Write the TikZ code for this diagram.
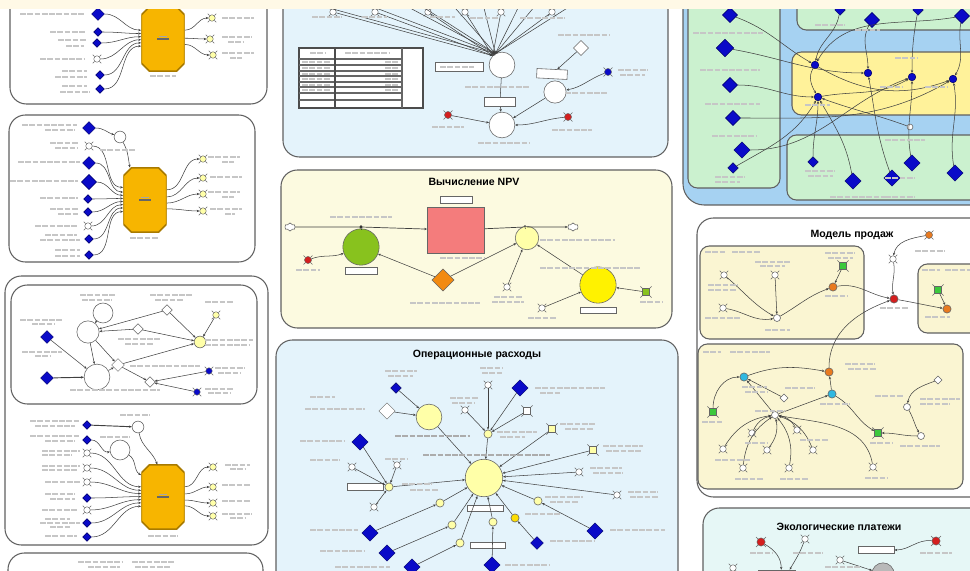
\documentclass[tikz,border=0pt]{standalone}
\usepackage{fontspec}
\setmainfont{Liberation Sans}
\usetikzlibrary{shapes.geometric,shapes.misc,shapes.symbols,arrows.meta,positioning}

\definecolor{topcream}{HTML}{FFF9E6}
\definecolor{panelblue}{HTML}{E4F3FB}
\definecolor{panelcream}{HTML}{FCFAE0}
\definecolor{subcream}{HTML}{FAF5D2}
\definecolor{ecocyan}{HTML}{E6F7F6}
\definecolor{skyblue}{HTML}{A6D2F2}
\definecolor{mint}{HTML}{CBF1CF}
\definecolor{sandyel}{HTML}{FFF29A}
\definecolor{stockpink}{HTML}{F47C7C}
\definecolor{octgold}{HTML}{F7B500}
\definecolor{octline}{HTML}{A87A00}
\definecolor{paleyel}{HTML}{FFFFA8}
\definecolor{npvgreen}{HTML}{88C21E}
\definecolor{npvorange}{HTML}{F28A10}
\definecolor{bluenode}{HTML}{0A0AC8}
\definecolor{rednode}{HTML}{D41E1E}
\definecolor{greennode}{HTML}{3CC83C}
\definecolor{orangenode}{HTML}{E87A20}
\definecolor{cyannode}{HTML}{30B8E0}

\newcommand\lbl[3]{\draw[lbar] (#1,#2) -- ++(#3,0);}

\begin{document}
\begin{tikzpicture}[x=0.03cm,y=-0.03cm,
  panel/.style={draw=gray!75!black, line width=0.9pt, rounded corners=14pt},
  subpanel/.style={panel, rounded corners=8pt},
  lk/.style={draw=black!75, line width=0.45pt, -{Stealth[length=2.4pt,width=2pt]}},
  ln/.style={draw=black!75, line width=0.45pt},
  tick/.style={draw=black!60, line width=0.45pt},
  ghost/.style={circle, draw=black!60, fill=#1, inner sep=0pt, minimum size=5.5pt, line width=0.4pt,
    append after command={
      (\tikzlastnode.45) edge[tick] ++(45:2.2pt)
      (\tikzlastnode.135) edge[tick] ++(135:2.2pt)
      (\tikzlastnode.225) edge[tick] ++(225:2.2pt)
      (\tikzlastnode.315) edge[tick] ++(315:2.2pt)}},
  ghost/.default=white,
  sqghost/.style={ghost=#1, rectangle, minimum size=6pt},
  sqghost/.default=white,
  bdia/.style={diamond, draw=blue!40!black, fill=bluenode, inner sep=0pt, minimum size=11pt},
  sdia/.style={bdia, minimum size=7.5pt},
  dot/.style={circle, draw=blue!40!black, fill=bluenode, inner sep=0pt, minimum size=6.5pt},
  circ/.style={circle, draw=black!60, fill=#1, inner sep=0pt, line width=0.5pt},
  circ/.default=white,
  wdia/.style={diamond, draw=black!60, fill=white, inner sep=0pt, minimum size=9pt},
  octo/.style={rectangle, minimum width=37pt, minimum height=55pt, inner sep=0pt,
    path picture={\filldraw[fill=octgold, draw=octline, line width=1.4pt]
      ([xshift=7pt]path picture bounding box.north west) -- ([xshift=-7pt]path picture bounding box.north east)
      -- ([yshift=-7pt]path picture bounding box.north east) -- ([yshift=7pt]path picture bounding box.south east)
      -- ([xshift=-7pt]path picture bounding box.south east) -- ([xshift=7pt]path picture bounding box.south west)
      -- ([yshift=7pt]path picture bounding box.south west) -- ([yshift=-7pt]path picture bounding box.north west)
      -- cycle;
      \draw[black!60, line width=1pt] ([xshift=-5pt]path picture bounding box.center) -- ([xshift=5pt]path picture bounding box.center);
      \draw[black!35, line width=0.8pt] ([xshift=-3pt,yshift=2pt]path picture bounding box.center) -- ([xshift=3pt,yshift=2pt]path picture bounding box.center);}},
  inbox/.style={rectangle, draw=black!60, fill=white, inner sep=0pt, line width=0.5pt},
  vlv/.style={circle, fill=black!80, inner sep=0pt, minimum size=3pt},
  sink/.style={cloud, cloud puffs=6, draw=black!70, fill=white, minimum width=9pt, minimum height=7pt, inner sep=0pt},
  lbar/.style={draw=gray!45, line width=2pt, dash pattern=on 5pt off 1.2pt},
  ttl/.style={font=\fontsize{9}{10}\selectfont\bfseries}]
\useasboundingbox (0,0) rectangle (970,571);
\clip (0,0) rectangle (970,571);
\fill[white] (0,0) rectangle (970,571);

% panels
\draw[panel,fill=white] (10,-30) rectangle (267,104);
\draw[panel,fill=white] (9,115) rectangle (255,262);
\draw[panel,fill=white] (5,276) rectangle (268,545);
\draw[panel,fill=white] (11,285) rectangle (257,404);
\draw[panel,fill=white] (8,553) rectangle (263,620);
\draw[panel,fill=panelblue] (283,-30) rectangle (668,157);
\draw[panel,fill=panelcream] (281,170) rectangle (672,328);
\draw[panel,fill=panelblue] (276,340) rectangle (678,620);
\draw[panel,fill=skyblue,rounded corners=18pt] (683,-30) rectangle (1000,205);
\draw[subpanel,fill=mint] (688,-30) rectangle (780,188);
\draw[subpanel,fill=mint] (797,-30) rectangle (1000,30);
\draw[subpanel,fill=sandyel] (792,52) rectangle (1000,115);
\draw[subpanel,fill=mint] (787,135) rectangle (1000,200);
\draw[panel,fill=white] (697,218) rectangle (1000,497);
\draw[subpanel,fill=subcream] (700,246) rectangle (864,339);
\draw[subpanel,fill=subcream] (918,264) rectangle (1000,333);
\draw[subpanel,fill=subcream] (698,344) rectangle (963,489);
\draw[panel,fill=ecocyan] (703,508) rectangle (1000,620);

% block A
\node[octo] (oa) at (163,39) {};
\node[bdia] (a1) at (98,14) {};
\node[sdia] (a2) at (98,32) {};
\node[sdia] (a3) at (97,43) {};
\node[ghost] (a4) at (97,59) {};
\node[sdia] (a5) at (100,75) {};
\node[sdia] (a6) at (100,89) {};
\node[ghost=paleyel] (ar1) at (212,18) {};
\node[ghost=paleyel] (ar2) at (210,39) {};
\node[ghost=paleyel] (ar3) at (213,55) {};
\coordinate (at1) at (135,0);
\coordinate (at2) at (200,0);
\foreach \n/\t in {1/158,2/166,3/174,4/182,5/190,6/198}
  \draw[lk] (a\n) to[out=0,in=180] (oa.\t);
\foreach \n/\t in {1/22,2/2,3/-14}
  \draw[lk] (oa.\t) to[out=0,in=180] (ar\n);
\draw[lk] (at1) to[out=-20,in=160] (oa.125);
\draw[lk] (at2) to[out=200,in=20] (oa.55);
\lbl{20}{14}{65}\lbl{50}{32}{35}\lbl{58}{40}{28}\lbl{66}{46}{18}\lbl{40}{59}{45}
\lbl{62}{71}{25}\lbl{55}{77}{32}\lbl{62}{86}{25}\lbl{60}{92}{30}
\lbl{222}{18}{32}\lbl{222}{37}{30}\lbl{228}{42}{15}\lbl{222}{53}{32}\lbl{230}{58}{12}
\lbl{150}{76}{26}

% block B
\node[octo] (ob) at (145,200) {};
\node[bdia] (b1) at (89,128) {};
\node[ghost] (b2) at (89,146) {};
\node[bdia] (b3) at (89,163) {};
\node[bdia, minimum size=13pt] (b4) at (89,182) {};
\node[sdia] (b5) at (88,199) {};
\node[sdia] (b6) at (88,212) {};
\node[ghost] (b7) at (88,226) {};
\node[sdia] (b8) at (89,239) {};
\node[sdia] (b9) at (89,255) {};
\node[circ, minimum size=10pt] (bc) at (120,137) {};
\draw[lk] (b1) to[out=0,in=160] (bc);
\draw[lk] (bc) to[out=-60,in=100] (ob.115);
\foreach \n/\t in {2/150,3/160,4/168,5/176,6/184,7/192,8/200,9/208}
  \draw[lk] (b\n) to[out=0,in=180] (ob.\t);
\foreach \n/\y/\t in {1/159/25,2/178/8,3/194/-8,4/211/-22} {
  \node[ghost=paleyel] (br\n) at (203,\y) {};
  \draw[lk] (ob.\t) to[out=0,in=180] (br\n);
}
\lbl{22}{125}{55}\lbl{45}{130}{30}\lbl{50}{143}{28}\lbl{55}{148}{22}\lbl{100}{150}{35}
\lbl{18}{162}{62}\lbl{10}{181}{68}\lbl{40}{198}{38}\lbl{50}{209}{28}\lbl{58}{214}{20}
\lbl{35}{226}{42}\lbl{45}{235}{32}\lbl{40}{240}{40}\lbl{55}{250}{25}\lbl{55}{256}{25}
\lbl{208}{157}{32}\lbl{222}{162}{12}\lbl{210}{177}{32}\lbl{208}{192}{32}\lbl{222}{197}{12}
\lbl{210}{209}{32}\lbl{225}{214}{10}\lbl{130}{238}{28}

% block C, upper part
\node[bdia] (c1) at (47,337) {};
\node[bdia] (c2) at (47,378) {};
\node[circ, minimum size=19pt] (cw1) at (88,332) {};
\node[circ, minimum size=17pt] (cw2) at (103,313) {};
\node[circ, minimum size=22pt] (cw3) at (97,377) {};
\node[wdia] (cd1) at (167,310) {};
\node[wdia] (cd2) at (138,329) {};
\node[wdia, minimum size=11pt] (cd3) at (118,365) {};
\node[wdia] (cd4) at (150,382) {};
\node[circ=paleyel, minimum size=10pt] (cy) at (200,342) {};
\node[ghost=paleyel] (cyg) at (216,315) {};
\node[ghost=bluenode] (cb1) at (209,371) {};
\node[ghost=bluenode] (cb2) at (197,392) {};
\draw[lk] (c1) -- (cw3);
\draw[lk, line width=0.8pt] (c2) -- (cw3);
\draw[lk] (cw2) -- (cw1);
\draw[lk] (cw1) -- (cw3);
\draw[lk] (cw1) -- (cd3);
\draw[lk] (cd1) -- (cw1);
\draw[lk] (cd2) -- (cw1);
\draw[lk] (cd1) -- (cy);
\draw[lk] (cd2) -- (cy);
\draw[lk] (cd3) -- (cy);
\draw[lk] (cw3) -- (cd3);
\draw[lk] (cd3) -- (cd4);
\draw[lk] (cb1) -- (cd4);
\draw[lk] (cb2) -- (cd4);
\draw[lk] (cyg) -- (cy);
\lbl{80}{295}{36}\lbl{150}{295}{42}\lbl{82}{300}{30}\lbl{155}{300}{28}\lbl{205}{302}{28}
\lbl{20}{320}{42}\lbl{32}{324}{22}\lbl{118}{339}{42}\lbl{125}{344}{28}\lbl{22}{352}{40}\lbl{35}{356}{15}
\lbl{205}{340}{48}\lbl{205}{345}{45}\lbl{130}{366}{70}\lbl{215}{368}{30}\lbl{218}{373}{22}
\lbl{70}{390}{90}\lbl{205}{389}{28}\lbl{208}{393}{22}

% block C, lower part
\node[octo] (oc) at (163,497) {};
\node[sdia] (d1) at (87,425) {};
\node[sdia] (d2) at (87,440) {};
\node[ghost] (d3) at (87,453) {};
\node[ghost] (d4) at (87,468) {};
\node[ghost] (d5) at (87,482) {};
\node[sdia] (d6) at (87,498) {};
\node[ghost] (d7) at (87,510) {};
\node[sdia] (d8) at (87,523) {};
\node[sdia] (d9) at (87,537) {};
\node[circ, minimum size=10pt] (dc1) at (138,427) {};
\node[circ, minimum size=17pt] (dc2) at (120,450) {};
\draw[lk, line width=0.8pt] (d1) -- (dc1);
\draw[lk] (dc1) to[out=-80,in=110] (oc.100);
\draw[lk] (d2) to[out=0,in=190] (dc2);
\draw[lk] (dc2) to[out=-30,in=150] (oc.135);
\foreach \n/\t in {3/155,4/163,5/171,6/179,7/187,8/195,9/203}
  \draw[lk] (d\n) to[out=0,in=180] (oc.\t);
\foreach \n/\y/\t in {1/467/25,2/487/8,3/503/-8,4/516/-22} {
  \node[ghost=paleyel] (cr\n) at (213,\y) {};
  \draw[lk] (oc.\t) to[out=0,in=180] (cr\n);
}
\lbl{120}{415}{30}\lbl{30}{421}{50}\lbl{35}{426}{40}\lbl{30}{436}{50}\lbl{45}{441}{30}\lbl{100}{437}{30}
\lbl{42}{451}{38}\lbl{42}{455}{30}\lbl{42}{466}{38}\lbl{42}{470}{36}\lbl{45}{482}{36}
\lbl{45}{494}{30}\lbl{50}{499}{25}\lbl{42}{510}{36}\lbl{45}{519}{25}\lbl{40}{523}{40}\lbl{50}{527}{20}
\lbl{45}{536}{32}\lbl{225}{465}{25}\lbl{230}{469}{15}\lbl{222}{485}{28}\lbl{222}{501}{28}
\lbl{222}{514}{30}\lbl{230}{518}{15}\lbl{148}{536}{30}
\lbl{78}{562}{45}\lbl{132}{562}{42}\lbl{88}{567}{32}\lbl{135}{567}{35}

% block D
\foreach \n/\x in {1/333,2/375,3/428,4/465,5/501,6/552}
  \node[ghost] (t\n) at (\x,12) {};
\node[circ, minimum size=22pt] (dv1) at (502,65) {};
\node[circ, minimum size=22pt] (dv2) at (502,125) {};
\node[circ, minimum size=19pt] (dv3) at (555,92) {};
\node[inbox, minimum width=41pt, minimum height=8pt] (dbox1) at (459,67) {};
\node[inbox, minimum width=26pt, minimum height=8pt] (dbox2) at (500,102) {};
\node[inbox, minimum width=26pt, minimum height=8pt, rotate=-3] (dbox3) at (552,74) {};
\node[wdia, minimum size=13pt] (dd) at (581,48) {};
\node[ghost=bluenode, minimum size=6pt] (dbl) at (608,72) {};
\node[ghost=rednode, minimum size=6pt] (dr1) at (448,115) {};
\node[ghost=rednode, minimum size=6pt] (dr2) at (568,117) {};
\foreach \n in {1,...,6}
  \draw[lk] (t\n) -- (dv1.north west);
\foreach \i/\x in {1/300,2/355,3/395,4/412,5/448,6/482,7/522,8/540,9/580}
  \coordinate (tc\i) at (\x,0);
\foreach \i in {1,...,9}
  \draw[lk] (tc\i) -- (dv1.120);
\draw[ln] (dv1) -- (dbox2);
\draw[lk] (dbox2) -- (dv2);
\draw[lk] (dr1) to[out=-10,in=170] (dv2);
\draw[lk] (dr2) to[out=185,in=0] (dv2);
\draw[lk] (dv3) -- (dv2);
\draw[lk] (dd) -- (dbox3);
\draw[lk] (dbl) to[out=200,in=10] (dv3);
% table
\draw[draw=black!70, line width=1.3pt, fill=white] (299,48) rectangle (423,108);
\foreach \r in {59,65,71,76,82,87,93,100}
  \draw[black!60, line width=0.9pt] (299,\r) -- (402,\r);
\draw[black!70, line width=1.2pt] (335,48) -- (335,108);
\draw[black!60, line width=0.9pt] (402,48) -- (402,108);
\lbl{310}{53}{15}\lbl{345}{53}{45}
\foreach \r in {62,68,74,79,85,90}
  {\lbl{302}{\r}{28}\lbl{385}{\r}{14}}
\lbl{312}{17}{30}\lbl{362}{17}{25}\lbl{430}{17}{25}\lbl{470}{18}{28}\lbl{520}{18}{25}\lbl{535}{18}{30}
\lbl{440}{67}{34}\lbl{465}{87}{65}\lbl{478}{143}{52}\lbl{565}{93}{42}\lbl{558}{35}{52}
\lbl{618}{70}{30}\lbl{620}{75}{25}\lbl{432}{127}{32}\lbl{552}{130}{40}

% block E: NPV
\node[ttl] (ettl) at (474,182) {Вычисление NPV};
\node[sink] (ec1) at (290,227) {};
\node[sink] (ec2) at (573,227) {};
\node[rectangle, draw=black!60, fill=stockpink, minimum width=49pt, minimum height=39pt] (es) at (456,230) {};
\node[inbox, minimum width=27pt, minimum height=6pt] (ebox0) at (456,200) {};
\node[vlv] (ev1) at (361,227) {};
\node[vlv] (ev2) at (525,227) {};
\node[circ=npvgreen, minimum size=31pt] (eg) at (361,247) {};
\node[inbox, minimum width=27pt, minimum height=6pt] (ebox1) at (361,271) {};
\node[circ=paleyel, minimum size=20pt] (ey) at (527,238) {};
\node[diamond, draw=black!60, fill=npvorange, minimum size=19pt, inner sep=0pt] (eo) at (443,280) {};
\node[ghost=rednode, minimum size=6pt] (er) at (308,260) {};
\node[circ=yellow, minimum size=31pt] (eY) at (598,285) {};
\node[inbox, minimum width=31pt, minimum height=5pt] (ebox2) at (598,310) {};
\node[sqghost=npvgreen] (egs) at (646,292) {};
\node[ghost] (ew1) at (507,287) {};
\node[ghost] (ew2) at (542,308) {};
\draw[ln, line width=0.6pt] (ec1) -- (ev1);
\draw[lk, line width=0.6pt] (ev1) -- (es);
\draw[ln, line width=0.6pt] (es) -- (ev2);
\draw[lk, line width=0.6pt] (ev2) -- (ec2);
\draw[ln] (eg) -- (ev1);
\draw[ln] (ey) -- (ev2);
\draw[lk] (er) to[out=20,in=200] (eg);
\draw[lk] (eo) -- (eg);
\draw[lk] (eo) -- (ey);
\draw[lk] (ew1) -- (ey);
\draw[lk] (eY) -- (ey);
\draw[lk] (ew2) -- (eY);
\draw[lk] (egs) -- (eY);
\lbl{330}{217}{62}\lbl{540}{240}{75}\lbl{440}{258}{45}\lbl{410}{303}{70}
\lbl{540}{268}{100}\lbl{296}{270}{24}\lbl{494}{297}{28}\lbl{492}{302}{32}\lbl{528}{318}{28}\lbl{640}{302}{22}

% block F: operating costs
\node[ttl] (fttl) at (477,355) {Операционные расходы};
\node[circ=paleyel, minimum size=32pt] (fY) at (484,478) {};
\node[circ=paleyel, minimum size=22pt] (fy1) at (429,417) {};
\node[wdia, minimum size=14pt] (fwd) at (387,411) {};
\node[sdia, minimum size=9pt] (fb1) at (396,388) {};
\node[bdia, minimum size=14pt] (fb2) at (520,388) {};
\node[bdia, minimum size=14pt] (fb3) at (360,442) {};
\node[circ=paleyel, minimum size=7pt] (fs1) at (488,434) {};
\node[sqghost=paleyel] (fs2) at (552,429) {};
\node[sqghost=paleyel] (fs3) at (593,450) {};
\node[circ=paleyel, minimum size=7pt] (fs4) at (389,487) {};
\node[circ=paleyel, minimum size=7pt] (fs5) at (440,503) {};
\node[circ=paleyel, minimum size=7pt] (fs6) at (538,501) {};
\node[circ=yellow!80!orange, minimum size=7pt] (fs7) at (515,518) {};
\node[circ=paleyel, minimum size=7pt] (fs8) at (493,522) {};
\node[circ=paleyel, minimum size=7pt] (fs9) at (452,525) {};
\node[circ=paleyel, minimum size=7pt] (fs10) at (460,543) {};
\node[ghost] (fg1) at (488,385) {};
\node[ghost] (fg2) at (465,410) {};
\node[sqghost] (fg3) at (527,411) {};
\node[ghost] (fg4) at (352,467) {};
\node[ghost] (fg5) at (397,465) {};
\node[ghost] (fg6) at (374,507) {};
\node[ghost] (fg7) at (579,472) {};
\node[ghost] (fg8) at (617,495) {};
\node[bdia, minimum size=14pt] (fb4) at (370,533) {};
\node[bdia, minimum size=14pt] (fb5) at (387,553) {};
\node[bdia, minimum size=14pt] (fb6) at (595,531) {};
\node[bdia] (fb7) at (537,543) {};
\node[bdia, minimum size=14pt] (fb8) at (412,567) {};
\node[bdia, minimum size=14pt] (fb9) at (492,565) {};
\node[inbox, minimum width=31pt, minimum height=6pt] (fbox1) at (365,487) {};
\node[inbox, minimum width=31pt, minimum height=5pt] (fbox2) at (485,508) {};
\node[inbox, minimum width=30pt, minimum height=5pt] (fbox3) at (488,545) {};
\draw[lk] (fwd) -- (fy1);
\draw[lk] (fb1) -- (fy1);
\draw[lk] (fy1) -- (fY);
\draw[lk] (fg1) -- (fs1);
\draw[lk] (fg2) -- (fs1);
\draw[lk] (fg3) -- (fs1);
\draw[lk] (fb2) -- (fs1);
\draw[lk] (fs1) -- (fY);
\foreach \s in {fs2,fs3,fg7,fg8,fs4,fs5,fs6,fs7,fs8,fs9,fs10}
  \draw[lk] (\s) -- (fY);
\foreach \s in {fb3,fg4,fg5,fg6}
  \draw[lk] (\s) -- (fs4);
\draw[lk] (fb4) -- (fs5);
\draw[lk] (fb5) -- (fs9);
\draw[lk] (fb8) -- (fs10);
\draw[lk] (fb9) -- (fs8);
\draw[lk] (fb6) -- (fs6);
\draw[lk] (fb7) -- (fs7);
\draw[lbar, gray!65] (423,455) -- ++(127,0);
\draw[lbar, gray!65] (395,436) -- ++(75,0);
\lbl{385}{371}{32}\lbl{388}{376}{25}\lbl{305}{409}{60}\lbl{300}{441}{45}\lbl{310}{397}{25}
\lbl{480}{368}{22}\lbl{482}{373}{20}\lbl{450}{398}{28}\lbl{452}{403}{22}\lbl{535}{388}{70}\lbl{540}{393}{20}
\lbl{497}{432}{40}\lbl{500}{437}{25}\lbl{560}{424}{35}\lbl{565}{429}{28}\lbl{603}{446}{40}\lbl{606}{451}{35}
\lbl{590}{468}{32}\lbl{593}{473}{30}\lbl{628}{492}{30}\lbl{630}{497}{28}\lbl{310}{460}{30}\lbl{385}{459}{22}
\lbl{402}{484}{30}\lbl{410}{490}{28}\lbl{545}{497}{38}\lbl{550}{502}{28}\lbl{525}{514}{35}
\lbl{310}{530}{48}\lbl{320}{551}{45}\lbl{610}{530}{55}\lbl{550}{541}{45}\lbl{335}{567}{55}\lbl{505}{565}{45}

% block top right
\node[bdia, minimum size=13pt] (g1) at (730,15) {};
\node[bdia, minimum size=15pt] (g2) at (725,48) {};
\node[bdia, minimum size=13pt] (g3) at (730,85) {};
\node[bdia, minimum size=13pt] (g4) at (733,118) {};
\node[bdia, minimum size=14pt] (g5) at (742,150) {};
\node[sdia, minimum size=9pt] (g6) at (733,168) {};
\node[sdia, minimum size=9pt] (g7) at (840,10) {};
\node[bdia, minimum size=13pt] (g8) at (872,20) {};
\node[sdia, minimum size=9pt] (g9) at (918,10) {};
\node[bdia, minimum size=13pt] (g10) at (962,16) {};
\node[sdia, minimum size=9pt] (g11) at (813,162) {};
\node[bdia, minimum size=14pt] (g12) at (853,181) {};
\node[bdia, minimum size=14pt] (g13) at (892,178) {};
\node[bdia, minimum size=14pt] (g14) at (912,163) {};
\node[bdia, minimum size=14pt] (g15) at (955,173) {};
\node[dot] (h1) at (815,65) {};
\node[dot] (h2) at (868,73) {};
\node[dot] (h3) at (912,77) {};
\node[dot] (h4) at (953,79) {};
\node[dot] (h5) at (818,97) {};
\node[circ, minimum size=5pt] (hw) at (910,127) {};
\draw[lk] (g1) to[out=-20,in=150] (h1);
\draw[lk] (g2) to[out=-10,in=180] (h2);
\draw[lk] (g3) to[out=0,in=180] (h5);
\draw[lk] (g4) to[out=0,in=210] (h4);
\draw[lk] (g5) to[out=0,in=200] (h3);
\draw[lk] (g6) to[out=30,in=-120] (h5);
\draw[lk] (g7) to[out=-100,in=80] (h1);
\draw[lk] (g8) to[out=-120,in=90] (h2);
\draw[lk] (g9) to[out=-100,in=90] (h3);
\draw[lk] (g10) to[out=190,in=60] (h1);
\draw[lk] (g10) to[out=-100,in=60] (h4);
\draw[lk] (g11) to[out=90,in=-90] (h5);
\draw[lk] (g12) to[out=100,in=-60] (h5);
\draw[lk] (g13) to[out=110,in=-80] (h2);
\draw[lk] (g14) to[out=100,in=-90] (h3);
\draw[lk] (g15) to[out=100,in=-80] (h4);
\draw[lk] (hw) to[out=160,in=-20] (h5);
\draw[lk] (h1) to[out=-30,in=200] (h4);
\draw[lk] (h5) to[out=10,in=210] (h3);
\draw[lk] (h1) to[out=-120,in=120] (h5);
\lbl{693}{33}{70}\lbl{700}{70}{60}\lbl{705}{104}{55}\lbl{712}{136}{45}\lbl{715}{177}{30}\lbl{715}{182}{25}
\lbl{805}{171}{30}\lbl{808}{176}{25}\lbl{830}{197}{55}\lbl{885}{197}{30}\lbl{815}{25}{30}\lbl{855}{30}{25}
\lbl{895}{58}{22}\lbl{805}{105}{25}\lbl{880}{87}{22}\lbl{925}{87}{22}\lbl{885}{140}{40}\lbl{885}{178}{30}

% block sales model
\node[ttl] (mttl) at (852,235) {Модель продаж};
\node[ghost=orangenode, minimum size=6pt] (mo) at (929,235) {};
\node[ghost] (m1) at (724,275) {};
\node[ghost] (m2) at (775,275) {};
\node[ghost] (m3) at (723,308) {};
\node[circ, minimum size=6pt] (mw) at (777,318) {};
\node[circ=orangenode, minimum size=7pt] (mo1) at (833,287) {};
\node[sqghost=greennode] (mg) at (843,266) {};
\node[ghost] (m4) at (893,259) {};
\node[circ=rednode, minimum size=7pt] (mr) at (894,299) {};
\node[sqghost=greennode] (mg2) at (938,290) {};
\node[circ=orangenode, minimum size=7pt] (mo2) at (947,309) {};
\node[circ=orangenode, minimum size=7pt] (mo3) at (829,372) {};
\node[circ=cyannode, minimum size=7pt] (mc1) at (744,377) {};
\node[circ=cyannode, minimum size=7pt] (mc2) at (832,394) {};
\node[wdia, minimum size=7pt] (mwd) at (784,398) {};
\node[sqghost=greennode] (mg3) at (713,412) {};
\node[circ, minimum size=6pt] (mwc) at (775,415) {};
\node[ghost] (mq1) at (752,433) {};
\node[ghost] (mq2) at (767,450) {};
\node[ghost] (mq3) at (797,430) {};
\node[ghost] (mq4) at (813,450) {};
\node[ghost] (mq5) at (723,449) {};
\node[ghost] (mq6) at (743,468) {};
\node[ghost] (mq7) at (789,468) {};
\node[ghost] (mq8) at (873,467) {};
\node[sqghost=greennode] (mg4) at (878,433) {};
\node[circ, minimum size=6pt] (mw2) at (907,407) {};
\node[circ, minimum size=6pt] (mw3) at (921,436) {};
\node[wdia, minimum size=7pt] (mwd2) at (938,380) {};
\draw[lk] (m1) to[out=-40,in=150] (mw);
\draw[lk] (m2) -- (mw);
\draw[lk] (m3) to[out=-10,in=190] (mw);
\draw[lk] (mw) to[out=30,in=200] (mo1);
\draw[lk] (mg) -- (mo1);
\draw[lk] (mo1) to[out=10,in=170] (mr);
\draw[lk] (mo) to[out=190,in=80] (m4);
\draw[lk] (m4) to[out=-80,in=100] (mr);
\draw[lk] (mr) to[out=-10,in=170] (mo2);
\draw[lk] (mg2) -- (mo2);
\draw[lk] (mo3) to[out=90,in=200] (mr);
\draw[lk] (mc2) -- (mo3);
\draw[lk] (mc1) to[out=20,in=170] (mo3);
\draw[lk] (mg3) to[out=90,in=180] (mc1);
\draw[lk] (mwd) -- (mc1);
\draw[lk] (mwc) -- (mc1);
\draw[lk] (mwc) to[out=20,in=200] (mc2);
\draw[lk] (mc2) to[out=-30,in=150] (mg4);
\foreach \n in {1,5,6}
  \draw[lk] (mq\n) to[bend left=25] (mwc);
\foreach \n in {2,3,4,7}
  \draw[lk] (mq\n) to[bend right=25] (mwc);
\draw[lk] (mq8) to[out=100,in=-10] (mwc);
\draw[lk] (mw3) to[out=180,in=0] (mg4);
\draw[lk] (mw2) to[out=-60,in=120] (mw3);
\draw[lk] (mwd2) to[out=200,in=80] (mw2);
\lbl{705}{252}{20}\lbl{732}{252}{28}\lbl{922}{270}{18}\lbl{945}{270}{25}\lbl{703}{352}{18}\lbl{730}{352}{40}
\lbl{825}{253}{30}\lbl{828}{258}{25}\lbl{755}{262}{35}\lbl{760}{266}{25}\lbl{708}{285}{30}\lbl{708}{290}{28}
\lbl{705}{318}{35}\lbl{765}{330}{25}\lbl{825}{296}{22}\lbl{880}{308}{28}\lbl{915}{251}{30}\lbl{925}{317}{25}
\lbl{845}{364}{30}\lbl{848}{369}{28}\lbl{742}{387}{25}\lbl{745}{392}{22}\lbl{785}{388}{30}\lbl{820}{404}{30}
\lbl{702}{422}{20}\lbl{755}{411}{30}\lbl{875}{396}{28}\lbl{920}{399}{40}\lbl{920}{404}{30}\lbl{900}{446}{40}
\lbl{870}{443}{22}\lbl{715}{460}{35}\lbl{745}{443}{22}\lbl{800}{440}{28}\lbl{735}{479}{28}\lbl{780}{479}{28}\lbl{865}{478}{22}

% block ecological payments
\node[ttl] (zttl) at (839,527) {Экологические платежи};
\node[ghost=rednode, minimum size=7pt] (z1) at (761,542) {};
\node[ghost] (z2) at (805,539) {};
\node[ghost=rednode, minimum size=7pt] (z3) at (936,541) {};
\node[ghost] (z4) at (840,560) {};
\node[ghost] (z5) at (733,568) {};
\node[circ=gray!55, minimum size=19pt] (zc) at (883,574) {};
\node[inbox, minimum width=31pt, minimum height=6pt] (zbox) at (876,550) {};
\node[inbox, fill=gray!55, minimum width=32pt, minimum height=12pt] (zst) at (777,577) {};
\draw[lk] (z1) to[out=-30,in=90] (zst.60);
\draw[lk] (z2) to[out=-110,in=60] (zst.30);
\draw[lk] (z3) to[out=175,in=0] (zbox);
\draw[lk] (z4) -- (zc);
\lbl{750}{553}{22}\lbl{793}{553}{30}\lbl{920}{553}{32}\lbl{825}{567}{35}

\fill[topcream] (0,0) rectangle (970,9);
\end{tikzpicture}
\end{document}
